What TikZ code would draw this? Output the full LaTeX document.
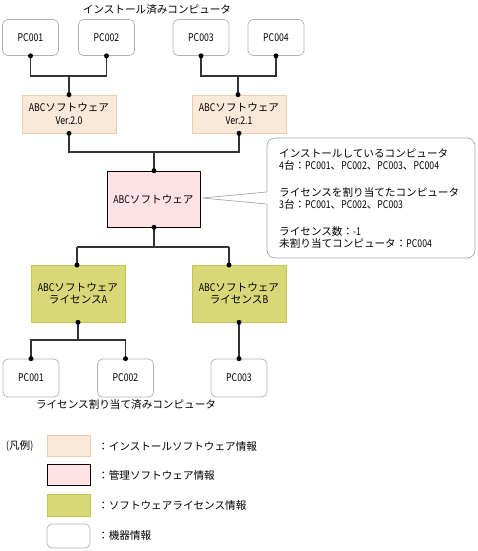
\documentclass[tikz,border=0pt]{standalone}
\usepackage{fontspec}
\setmainfont{Noto Sans CJK JP}
\newfontfamily\latf{Noto Sans CJK JP}[FakeStretch=0.82]
\newcommand\hw[1]{{\latf #1}}
\begin{document}
\begin{tikzpicture}[x=1pt,y=-1pt,
  font=\fontsize{10.6}{12.5}\selectfont,
  pcbox/.style={draw=black!30,fill=white,rounded corners=5pt,line width=0.7pt,minimum width=56pt,minimum height=36pt,inner sep=0pt},
  instbox/.style={draw=instB,fill=instF,line width=0.7pt,minimum width=94pt,minimum height=38pt,inner sep=0pt,align=center},
  mgrbox/.style={draw=black,fill=mgrF,line width=0.6pt,minimum width=93pt,minimum height=56pt,inner sep=0pt,align=center},
  licbox/.style={draw=licB,fill=licF,line width=0.7pt,minimum width=94pt,minimum height=57pt,inner sep=0pt,align=center},
  wire/.style={draw=black!80,line width=1.2pt},
  dot/.style={circle,fill=black,inner sep=0pt,minimum size=5pt},
  txt/.style={inner sep=0pt,anchor=west},
]
\definecolor{instF}{HTML}{FAE8D8}
\definecolor{instB}{HTML}{F0CCAC}
\definecolor{mgrF}{HTML}{FFE1E6}
\definecolor{licF}{HTML}{D8D878}
\definecolor{licB}{HTML}{C4C450}
\useasboundingbox (0,0) rectangle (477,551);

% top computers
\node[inner sep=0pt] (t1) at (157,10) {インストール済みコンピュータ};
\node[pcbox] (p1) at (30.5,37.5) {\hw{PC001}};
\node[pcbox] (p2) at (106.5,37.5) {\hw{PC002}};
\node[pcbox] (p3) at (201,37.5) {\hw{PC003}};
\node[pcbox] (p4) at (276,37.5) {\hw{PC004}};

\node[instbox] (v20) at (69,114) {\hw{ABC}ソフトウェア\\\hw{Ver.2.0}};
\node[instbox] (v21) at (239,114) {\hw{ABC}ソフトウェア\\\hw{Ver.2.1}};

\node[mgrbox] (abc) at (153.5,199) {\hw{ABC}ソフトウェア};

\node[licbox] (la) at (78,293.5) {\hw{ABC}ソフトウェア\\ライセンス\hw{A}};
\node[licbox] (lb) at (239,293.5) {\hw{ABC}ソフトウェア\\ライセンス\hw{B}};

\node[pcbox,minimum height=38pt] (q1) at (31,378) {\hw{PC001}};
\node[pcbox,minimum height=38pt] (q2) at (125.5,378) {\hw{PC002}};
\node[pcbox,minimum height=38pt] (q3) at (239,378) {\hw{PC003}};
\node[inner sep=0pt] (t2) at (126,405) {ライセンス割り当て済みコンピュータ};

% junction coordinates
\coordinate (ja) at (69,76);
\coordinate (jb) at (238,76);
\coordinate (jc) at (154,152);
\coordinate (jd) at (154,247);
\coordinate (je) at (78,340);
\coordinate (la1) at (77,265);
\coordinate (lb1) at (229,265);

% wires
\draw[wire] (p1.south) |- (ja) -| (p2.south);
\draw[wire] (ja) -- (v20.north);
\draw[wire] (p3.south) |- (jb) -| (p4.south);
\draw[wire] (jb) -- (jb |- v21.north);
\draw[wire] (v20.south) |- (jc) -| (v21.south);
\draw[wire] (jc) -- (abc.north -| jc);
\draw[wire] (abc.south -| jd) -- (jd);
\draw[wire] (la1 |- jd) -- (la1);
\draw[wire] (lb1 |- jd) -- (lb1);
\draw[wire] (la1 |- jd) -- (lb1 |- jd);
\draw[wire] (la.south) -- (je);
\draw[wire] (q1.north) |- (je) -| (q2.north);
\draw[wire] (lb.south) -- (q3.north);

% dots
\foreach \n in {p1,p2,p3,p4,v20,v21,la,lb} {\node[dot] at (\n.south) {};}
\node[dot] at (v20.north) {};
\node[dot] at (jb |- v21.north) {};
\node[dot] at (abc.north -| jc) {};
\node[dot] at (abc.south -| jd) {};
\node[dot] at (la1) {};
\node[dot] at (lb1) {};
\node[dot] at (q1.north) {};
\node[dot] at (q2.north) {};
\node[dot] at (q3.north) {};

% callout
\node[draw=black!35,fill=white,rounded corners=8pt,line width=0.7pt,minimum width=208pt,minimum height=120pt] (call) at (371,198) {};
\coordinate (tip) at (202,198);
\fill[white] ([yshift=-6pt]call.west) -- (tip) -- ([yshift=6pt]call.west) -- cycle;
\draw[black!35,line width=0.7pt] ([yshift=-6pt]call.west) -- (tip) -- ([yshift=6pt]call.west);
\fill[white] ([yshift=-5.6pt,xshift=0.5pt]call.west) rectangle ([yshift=5.6pt,xshift=2pt]call.west);
\node[txt] (c1) at (279,153) {インストールしているコンピュータ};
\node[txt] (c2) at (279,165) {\hw{4}台：\hw{PC001}、\hw{PC002}、\hw{PC003}、\hw{PC004}};
\node[txt] (c3) at (279,192) {ライセンスを割り当てたコンピュータ};
\node[txt] (c4) at (279,204) {\hw{3}台：\hw{PC001}、\hw{PC002}、\hw{PC003}};
\node[txt] (c5) at (279,231) {ライセンス数：\hw{-1}};
\node[txt] (c6) at (279,243) {未割り当てコンピュータ：\hw{PC004}};

% legend
\node[txt] (lg) at (6,446) {\hw{(}凡例\hw{)}};
\node[draw=instB,fill=instF,line width=0.7pt,minimum width=43pt,minimum height=21pt,inner sep=0pt] (k1) at (68.5,445.5) {};
\node[draw=black,fill=mgrF,line width=0.7pt,minimum width=43pt,minimum height=21pt,inner sep=0pt] (k2) at (68.5,474.5) {};
\node[draw=licB,fill=licF,line width=0.7pt,minimum width=43pt,minimum height=22pt,inner sep=0pt] (k3) at (68.5,505) {};
\node[draw=black!30,fill=white,rounded corners=5pt,line width=0.7pt,minimum width=43pt,minimum height=24pt,inner sep=0pt] (k4) at (68.5,536) {};
\node[txt] (l1) at (98,446) {：インストールソフトウェア情報};
\node[txt] (l2) at (98,475) {：管理ソフトウェア情報};
\node[txt] (l3) at (98,505) {：ソフトウェアライセンス情報};
\node[txt] (l4) at (98,535) {：機器情報};
\end{tikzpicture}
\end{document}
